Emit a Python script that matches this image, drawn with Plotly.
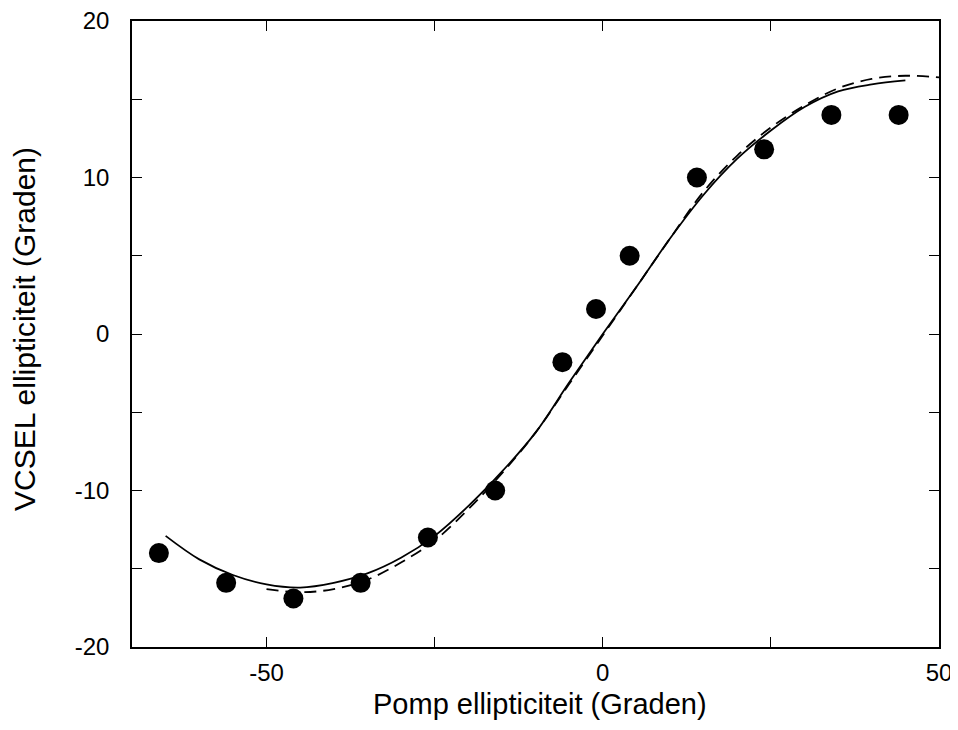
import plotly.graph_objects as go

# Measured data points
meas_x = [-66, -56, -46, -36, -26, -16, -6, -1, 4, 14, 24, 34, 44]
meas_y = [-14.0, -15.9, -16.9, -15.9, -13.0, -10.0, -1.8, 1.6, 5.0, 10.0, 11.8, 14.0, 14.0]

# Solid model curve
solid_x = [-65, -60, -55, -50, -45, -40, -35, -30, -25, -20, -15, -10, -5,
           0, 5, 10, 15, 20, 25, 30, 35, 40, 45]
solid_y = [-12.9, -14.4, -15.4, -16.0, -16.2, -15.9, -15.3, -14.3, -12.9, -11.0,
           -8.8, -6.3, -3.1, 0.0, 3.0, 6.1, 8.9, 11.2, 13.0, 14.5, 15.5, 15.95, 16.2]

# Dashed model curve
dash_x = [-50, -45, -40, -35, -30, -25, -20, -15, -10, -5, 0, 5, 10, 15, 20,
          25, 30, 35, 40, 45, 50]
dash_y = [-16.3, -16.5, -16.3, -15.7, -14.6, -13.2, -11.2, -8.9, -6.3, -3.2,
          -0.1, 3.0, 6.1, 9.1, 11.4, 13.2, 14.6, 15.7, 16.3, 16.5, 16.4]

x_ticks = [-50, 0, 50]
y_ticks = [-20, -10, 0, 10, 20]

FONT = "Liberation Sans, Arial, sans-serif"

fig = go.Figure()
fig.add_trace(go.Scatter(x=solid_x, y=solid_y, mode="lines",
                         line=dict(color="black", width=1.8, shape="spline"),
                         showlegend=False, hoverinfo="skip"))
fig.add_trace(go.Scatter(x=dash_x, y=dash_y, mode="lines",
                         line=dict(color="black", width=1.8, shape="spline", dash="12px,7px"),
                         showlegend=False, hoverinfo="skip"))
fig.add_trace(go.Scatter(x=meas_x, y=meas_y, mode="markers",
                         marker=dict(color="black", size=20, line=dict(width=0)),
                         showlegend=False))

axis_common = dict(showgrid=False, zeroline=False, showline=True, linecolor="black",
                   linewidth=1.5, mirror="ticks", ticks="inside", ticklen=10,
                   tickwidth=1.2, tickcolor="black", ticklabeloverflow="allow",
                   tickfont=dict(family=FONT, size=24, color="black"))

fig.update_xaxes(range=[-70, 50], tickmode="array", tickvals=x_ticks,
                 ticktext=[str(v) for v in x_ticks],
                 minor=dict(dtick=25, tick0=0, ticks="inside", ticklen=10, tickwidth=1.2,
                            tickcolor="black", showgrid=False),
                 ticklabelstandoff=3, **axis_common)
fig.update_yaxes(range=[-20, 20], tickmode="array", tickvals=y_ticks,
                 ticktext=[str(v) for v in y_ticks],
                 minor=dict(dtick=5, tick0=0, ticks="inside", ticklen=10, tickwidth=1.2,
                            tickcolor="black", showgrid=False),
                 ticklabelstandoff=16, **axis_common)

# page body adds an 8px offset, so the figure is sized to fit the window
fig.update_layout(
    width=950, height=722,
    margin=dict(l=124, r=19, t=13, b=83, autoexpand=False),
    plot_bgcolor="white", paper_bgcolor="white",
    font=dict(family=FONT, color="black"),
    annotations=[
        dict(text="Pomp ellipticiteit (Graden)", xref="paper", yref="paper",
             x=0.505, y=0, xanchor="center", yanchor="middle", yshift=-57,
             showarrow=False, font=dict(family=FONT, size=29, color="black")),
        dict(text="VCSEL ellipticiteit (Graden)", xref="paper", yref="paper",
             x=0, y=0.5, xanchor="center", yanchor="middle", xshift=-108, yshift=5,
             textangle=-90, showarrow=False,
             font=dict(family=FONT, size=30, color="black")),
    ],
)

fig.write_html("out.html")
